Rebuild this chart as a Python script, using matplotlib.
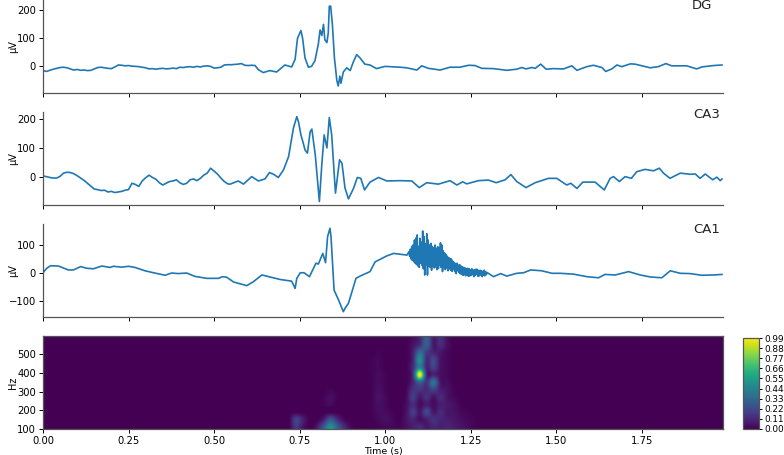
#!/usr/bin/env python
"""LFP traces of DG, CA3, CA1 with a wavelet power panel below"""
import numpy as np
import matplotlib
matplotlib.use('Agg')
import matplotlib.pyplot as plt

# traces (seconds, microvolts)
# the flat starts and the ripple burst are read at a fixed step, so only their values are listed
dg_start_uv = [-15, -18, -14, -10, -7, -4, -3, -5, -9, -13,
               -11, -14, -13, -15, -14, -9, -4, -3, -5, -7,
               -8, -2, 5, 4, 2, 3, 1, 0, -1, -3,
               -5, -9, -8, -10, -8, -7, -9, -8, -6, -8,
               -3, -4, -2, -1, -3, 0, -2, 1, 2, 0,
               -6, -5, -3, 5, 6, 6, 7, 8, 10, 4,
               3, 4, 3]
dg_t = [.63, .644, .663, .683, .707, .727, .737, .744, .754,
        .759, .766, .776, .785, .795, .80, .805, .81, .815, .82, .824, .83, .834, .837, .841, .846, .852, .859, .863,
        .868, .871, .878, .888, .898, .907, .917, .927, .941, .956, .975, 1.0, 1.044, 1.063, 1.093, 1.107, 1.127, 1.161,
        1.19, 1.219, 1.244, 1.263, 1.283, 1.317, 1.356, 1.385, 1.40, 1.412, 1.429, 1.439, 1.455, 1.471, 1.492, 1.522,
        1.546, 1.561, 1.59, 1.609, 1.634, 1.645, 1.663, 1.678, 1.692, 1.717, 1.731, 1.751, 1.775, 1.799, 1.821, 1.838,
        1.882, 1.911, 1.926, 1.96, 1.985]
dg_uv = [-12, -22, -15, -20, 5, -2, 25, 100, 128,
         100, 30, -3, 0, 20, 50, 80, 130, 110, 150, 95, 85, 120, 215, 215, 150, 30, -50, -70,
         -35, -60, -20, -5, -15, 15, 42, 30, 8, 5, -8, 0, -3, -5, -13, 2, -7, -13,
         -3, -3, 4, 3, -7, -8, -14, -10, -4, -9, -4, -7, 8, -10, -8, -9,
         2, -14, -1, 4, -4, -18, -9, 5, -1, 9, 8, 2, -5, -1, 10, 2,
         2, -9, -2, 3, 5]

ca3_start_uv = [3, 1, -2, -4, -4, 2, 13, 16, 15, 11,
                4, -4, -12, -22, -32, -42, -44, -47, -46, -52,
                -50, -54, -52, -50, -46, -44, -22, -26, -33, -14,
                -3, 6, -2, -8, -20, -28, -22, -16, -14, -10,
                -20, -26, -22, -10, -7, -13, -5, 6, 13, 30,
                20, 10, -4, -16, -24]
ca3_t = [.547, .571, .586, .610, .63, .649, .662, .674,
         .688, .703, .718, .732, .742, .747, .754, .761, .766, .773, .781, .786, .796, .808, .815, .822, .83, .837, .844,
         .855, .867, .874, .883, .893, .908, .919, .929, .94, .956, .981, 1.005, 1.044, 1.078, 1.10, 1.122, 1.156,
         1.19, 1.21, 1.227, 1.239, 1.273, 1.302, 1.325, 1.351, 1.368, 1.385, 1.412, 1.439, 1.478, 1.502, 1.531, 1.543,
         1.561, 1.578, 1.614, 1.641, 1.658, 1.668, 1.685, 1.702, 1.72, 1.736, 1.76, 1.785, 1.802, 1.814, 1.833, 1.863,
         1.892, 1.907, 1.921, 1.936, 1.958, 1.97, 1.98, 1.985]
ca3_uv = [-25, -14, -25, 1, -14, -7, 15, 9,
          -2, 24, 70, 168, 208, 190, 145, 116, 93, 82, 156, 165, 76, -85, 41, 145, 100, 205, 145,
          -56, 59, 47, -39, -76, -39, -2, -5, -45, -18, -2, -14, -13, -14, -37, -20, -25,
          -13, -28, -17, -24, -13, -11, -20, -10, 8, -16, -37, -20, -5, -5, -28, -22,
          -40, -18, -18, -45, -5, 1, -16, 1, -5, 18, 26, 21, 30, 13, -5, 13,
          9, 10, -5, 10, -10, -1, -13, -7]

ca1_t = [0, .011, .022, .045, .074, .089, .11, .128, .147, .172, .196, .206, .23, .25, .269, .298, .323, .357, .376,
         .396, .42, .444, .479, .513, .525, .537, .557, .596, .615, .64, .693, .727, .737, .742, .752, .763, .779, .798,
         .805, .818, .826, .832, .839, .842, .851, .864, .878, .883, .893, .915, .927, .956, .971, .981, 1.005, 1.025, 1.064]
ca1_uv = [1, 17, 26, 25, 11, 11, 23, 17, 15, 25, 20, 24, 21, 24, 20, 8, 1, -8, 0,
          -2, 0, -12, -19, -19, -13, -15, -32, -45, -31, -7, -23, -29, -55, -19, 1, 1, -13, 35,
          32, 70, 37, 130, 160, 130, -61, -96, -138, -126, -108, -19, -11, 5, 40, 46, 61, 70, 64]
burst_uv = [76, 60, 85, 50, 95, 45, 100, 40, 118, 35,
            125, 30, 136, 25, 95, 20, 124, 35, 110, 28, 150, 15, 130, -7, 105, 30, 140, -7, 118, 25,
            100, 20, 106, 10, 95, 25, 90, 18, 100, 22, 88, 12, 94, 16, 89, 28, 108, 20, 100, 5,
            80, 20, 72, 12, 66, 18, 60, 8, 55, 15, 52, 10, 50, 6, 42,
            12, 38, 5, 34, -2, 35, 8, 28, 2, 30, -3, 25, -4, 22, -8, 20, -6, 18, -10, 16,
            -8, 17, -12, 15, -10, 12, -8, 15, -6, 10, -13, 12, -8, 14, -5, 13, -12, 8, -10, 10, -6, 8, -13, 6, -8, 10, -10, 5, -6, 2]
ca1_end_t = [1.317, 1.338, 1.356, 1.385, 1.405,
             1.426, 1.458, 1.488, 1.512, 1.551, 1.59, 1.624, 1.643, 1.673, 1.712, 1.746, 1.775, 1.809, 1.834, 1.863, 1.892,
             1.926, 1.96, 1.985]
ca1_end_uv = [-13, -2, -11, -1, 1,
              11, 8, -1, -1, -4, -13, -17, -5, -7, 5, -7, -14, -17, 8, -1, -2,
              -8, -7, -5]

# power panel, only the part that is not zero
spec_t = [.70, .72, .74, .76, .78, .80, .82, .84, .86, .88, .90, .92, .94, .96, .98, 1.00, 1.02, 1.04, 1.06, 1.08,
          1.10, 1.12, 1.14, 1.16, 1.18, 1.20, 1.22, 1.24, 1.26, 1.28, 1.30]
spec_hz = [590, 550, 510, 470, 430, 390, 350, 310, 270, 230, 190, 150, 110]
spec_power = [
    [0, 0, 0, 0, 0, 0, 0, 0, 0, 0, 0, 0, 0, 0, 0, 0, 0, 0, 0, .03, .10, .30, .08, .14, .04, 0, 0, 0, 0, 0, 0],
    [0, 0, 0, 0, 0, 0, 0, 0, 0, 0, 0, 0, 0, 0, 0, 0, 0, 0, 0, .05, .12, .30, .06, .12, .04, 0, 0, 0, 0, 0, 0],
    [0, 0, 0, 0, 0, 0, 0, 0, 0, 0, 0, 0, 0, 0, .01, 0, 0, 0, 0, .08, .35, .18, .10, .06, .02, 0, 0, 0, 0, 0, 0],
    [0, 0, 0, 0, 0, 0, 0, 0, 0, 0, 0, 0, 0, .01, .02, 0, 0, 0, 0, .10, .50, .12, .22, .05, .02, 0, 0, 0, 0, 0, 0],
    [0, 0, 0, 0, 0, 0, 0, 0, 0, 0, 0, 0, 0, .01, .02, 0, 0, 0, 0, .12, .45, .10, .20, .05, .02, 0, 0, 0, 0, 0, 0],
    [0, 0, 0, 0, 0, 0, 0, 0, 0, 0, 0, 0, 0, .01, .03, .01, 0, 0, 0, .15, 1.0, .12, .10, .04, .02, 0, 0, 0, 0, 0, 0],
    [0, 0, 0, 0, 0, 0, 0, 0, 0, 0, 0, 0, 0, .01, .03, .01, 0, 0, 0, .10, .32, .14, .38, .06, .03, 0, 0, 0, 0, 0, 0],
    [0, 0, 0, 0, 0, 0, 0, .01, 0, 0, 0, 0, 0, .01, .04, .01, 0, 0, .01, .14, .16, .12, .20, .08, .05, .01, 0, 0, 0, 0, 0],
    [0, 0, 0, 0, 0, 0, .01, .04, .01, 0, 0, 0, 0, .01, .05, .02, 0, 0, .02, .18, .06, .14, .05, .12, .05, .02, 0, 0, 0, 0, 0],
    [0, 0, 0, 0, 0, 0, .01, .03, 0, 0, 0, 0, 0, .01, .04, .02, 0, 0, .03, .12, .03, .08, .03, .08, .07, .04, .01, 0, 0, 0, 0],
    [0, 0, 0, 0, 0, 0, 0, 0, 0, 0, 0, 0, 0, .01, .03, .03, .01, 0, .04, .18, .06, .22, .06, .12, .06, .05, .02, .01, 0, 0, 0],
    [0, .01, .20, .08, 0, 0, .08, .28, .12, .02, 0, 0, 0, 0, .02, .04, .02, 0, .05, .10, .04, .08, .14, .10, .08, .06, .04, .02, .01, 0, 0],
    [0, .01, .16, .05, 0, .06, .28, .50, .30, .12, .02, 0, 0, 0, .01, .02, .02, .01, .04, .08, .12, .06, .10, .08, .10, .07, .05, .03, .01, 0, 0],
]

ticks_t = [0, .25, .5, .75, 1.0, 1.25, 1.5, 1.75]
cbar_ticks = [0, .11, .22, .33, .44, .55, .66, .77, .88, .99]
names = ['DG', 'CA3', 'CA1']

W, H = 784., 455.
LINE = '#1f77b4'
SPINE = '#555555'
T_MAX = 1.988


def pix_axes(x0, y0, x1, y1):
    # axes from pixel box, y counted from the top of the picture
    return fig.add_axes([x0 / W, 1 - y1 / H, (x1 - x0) / W, (y1 - y0) / H])


plt.rcParams['font.size'] = 7.2
plt.rcParams['axes.linewidth'] = 0.9
plt.rcParams['axes.edgecolor'] = SPINE
plt.rcParams['xtick.major.size'] = 2.6
plt.rcParams['ytick.major.size'] = 2.6
plt.rcParams['xtick.major.width'] = 0.7
plt.rcParams['ytick.major.width'] = 0.7
plt.rcParams['xtick.major.pad'] = 2.5
plt.rcParams['ytick.major.pad'] = 2.5

fig = plt.figure(figsize=(W / 100, H / 100), dpi=100)

dg_x = list(np.arange(len(dg_start_uv)) * .01) + dg_t
dg_y = dg_start_uv + dg_uv
ca3_x = list(np.arange(len(ca3_start_uv)) * .01) + ca3_t
ca3_y = ca3_start_uv + ca3_uv
ca1_x = ca1_t + list(np.linspace(1.07, 1.298, len(burst_uv))) + ca1_end_t
ca1_y = ca1_uv + burst_uv + ca1_end_uv

boxes = [(43, 0, 723, 93), (43, 112, 723, 205), (43, 224, 723, 317)]
traces = [(dg_x, dg_y), (ca3_x, ca3_y), (ca1_x, ca1_y)]
ylims = [(-95, 237), (-97, 224), (-157, 175)]
yticks = [[0, 100, 200], [0, 100, 200], [-100, 0, 100]]
name_x = [1.927, 1.939, 1.939]
name_y = [216, 214, 154]

for box, tr, yl, yt, nm, nx, ny in zip(boxes, traces, ylims, yticks, names, name_x, name_y):
    ax = pix_axes(*box)
    ax.plot(tr[0], tr[1], color=LINE, lw=1.2)
    ax.set_xlim(0, T_MAX)
    ax.set_ylim(*yl)
    ax.set_xticks(ticks_t)
    ax.set_xticklabels([])
    ax.set_yticks(yt)
    ax.set_ylabel('μV', fontsize=7)
    ax.yaxis.set_label_coords(-0.037, 0.5)
    ax.spines['top'].set_visible(False)
    ax.spines['right'].set_visible(False)
    ax.text(nx, ny, nm, fontsize=9.5, ha='center', va='center', color='#222222')

ax = pix_axes(43, 336, 723, 429)
ax.set_facecolor(plt.get_cmap('viridis')(0))
dt = (spec_t[1] - spec_t[0]) / 2
df = (spec_hz[0] - spec_hz[1]) / 2
img = ax.imshow(np.array(spec_power), cmap='viridis', vmin=0, vmax=.99, aspect='auto', interpolation='catrom',
                extent=[spec_t[0] - dt, spec_t[-1] + dt, spec_hz[-1] - df, spec_hz[0] + df])
ax.set_xlim(0, T_MAX)
ax.set_ylim(100, 597)
ax.set_xticks(ticks_t)
ax.set_xticklabels(['%.2f' % t for t in ticks_t])
ax.set_yticks([100, 200, 300, 400, 500])
ax.set_ylabel('Hz', fontsize=7)
ax.yaxis.set_label_coords(-0.037, 0.5)
ax.set_xlabel('Time (s)', fontsize=6.8, labelpad=0.5)

cax = pix_axes(743, 338, 759, 429)
cb = fig.colorbar(img, cax=cax)
cb.set_ticks(cbar_ticks)
cb.set_ticklabels(['%.2f' % c for c in cbar_ticks])
cb.ax.tick_params(labelsize=6.4, pad=1.5, length=2.4)
cb.outline.set_edgecolor(SPINE)

plt.savefig('out.png', dpi=100)
